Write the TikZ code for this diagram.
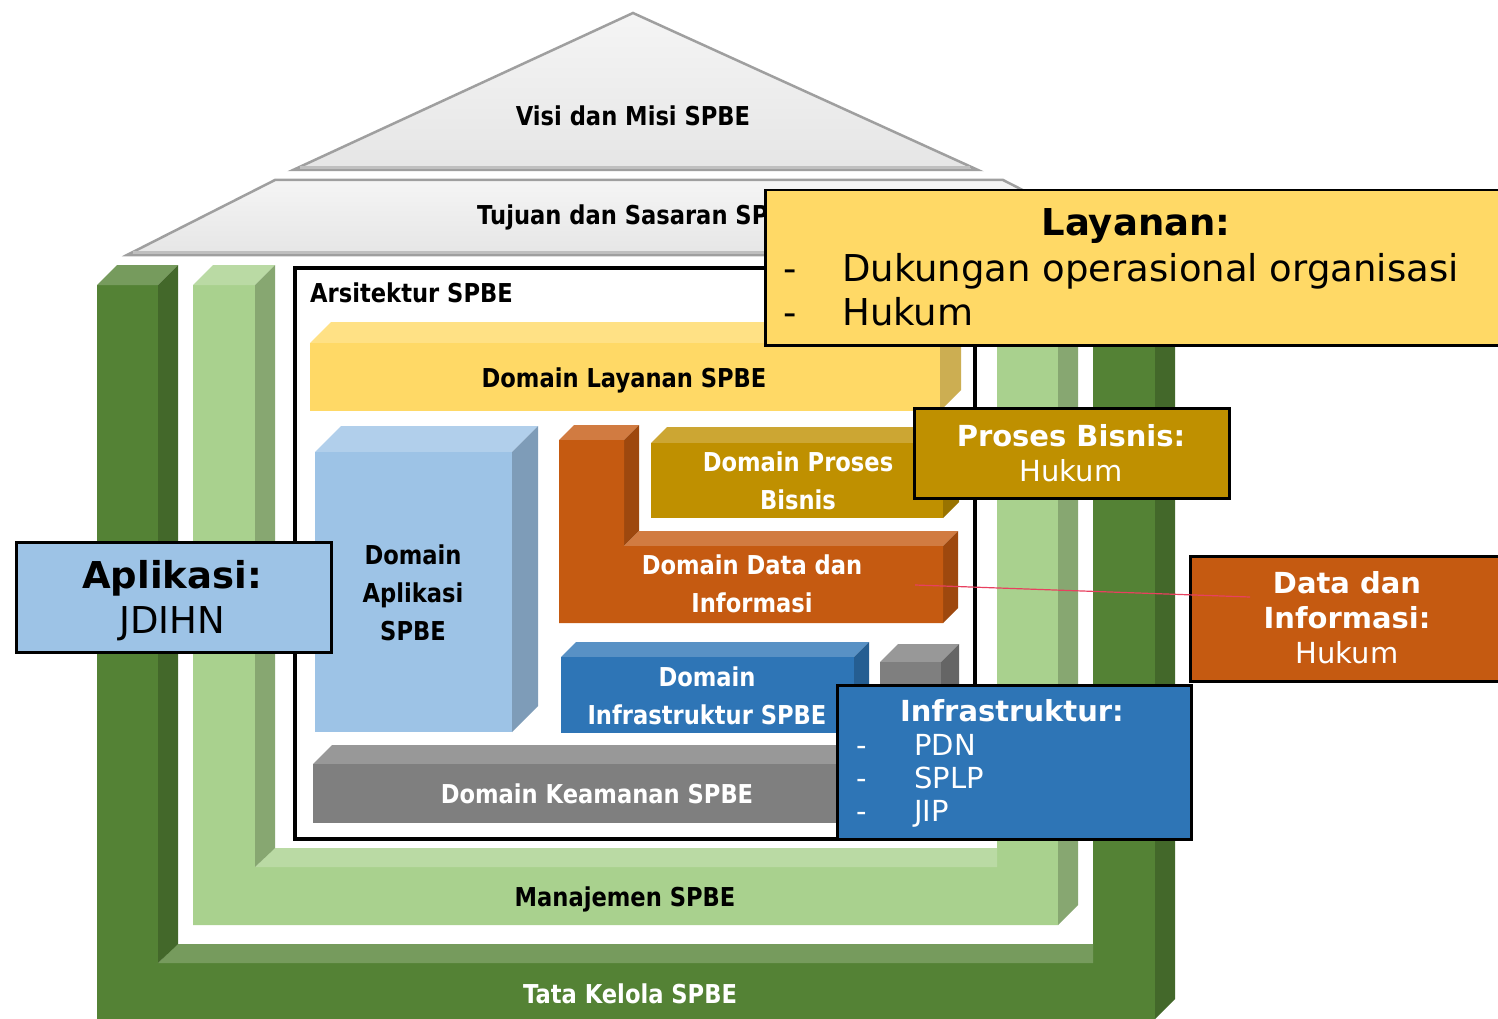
\documentclass[tikz,border=0pt]{standalone}
\usepackage{fontspec}
\setmainfont{DejaVu Sans}
\newfontfamily\labelfont{DejaVu Sans}[FakeStretch=0.87]
\usepackage{tikz}
\usetikzlibrary{positioning}
\usepackage{xcolor}
\definecolor{layananyellow}{HTML}{FFD966}
\definecolor{aplikasiblue}{HTML}{9DC3E6}
\definecolor{prosesgold}{HTML}{BF9000}
\definecolor{dataorange}{HTML}{C55A11}
\definecolor{infrablue}{HTML}{2E75B6}
\definecolor{amangray}{HTML}{7F7F7F}
\definecolor{tkgreen}{HTML}{548235}
\definecolor{mjgreen}{HTML}{A9D18E}
\definecolor{linkred}{HTML}{E8405F}

% kotak 3D: x1 y1 x2 y2 tebal warna
\newcommand{\blok}[6]{%
  \fill[#6!80!white] (#1,#2) -- ++(#5,-#5) -- (#3+#5,#2-#5) -- (#3,#2) -- cycle;
  \fill[#6!80!black] (#3,#2) -- (#3+#5,#2-#5) -- (#3+#5,#4-#5) -- (#3,#4) -- cycle;
  \fill[#6] (#1,#2) rectangle (#3,#4);
}

\begin{document}
\begin{tikzpicture}[x=1pt, y=-1pt,
   lbl/.style = {font=\labelfont\bfseries\fontsize{26}{38}\selectfont,
                 inner sep=0pt, align=center},
   callout/.style = {draw=black, line width=2.5pt, inner sep=0pt, anchor=north west},
   big/.style = {font=\fontsize{37}{45}\selectfont, inner sep=0pt},
   mid/.style = {font=\fontsize{29}{34}\selectfont, inner sep=0pt},
   item/.style = {anchor=base west},
   atap/.style = {top color=gray!8, bottom color=gray!20, draw=gray!75, line width=2.5}]
   \useasboundingbox[fill=white] (0,0) rectangle (1498,1019);

   % atap
   \shade[atap] (633,13) -- (978,170) -- (293,170) -- cycle;
   \draw[gray!50, line width=3] (300,167.5) -- (970,167.5);
   \shade[atap] (275,180) -- (1003,180) -- (1150,255) -- (127,255) -- cycle;
   \draw[gray!50, line width=3] (133,252.5) -- (1144,252.5);
   \node[lbl, anchor=base] (visi) at (633,125.5) {Visi dan Misi SPBE};
   \node[lbl, anchor=base west] (tujuan) at (477,224.5) {Tujuan dan Sasaran SPBE};

   % tata kelola dan manajemen
   \foreach \xa/\xb/\xc/\xd/\yb/\yc/\warna in
       {97/158/1093/1155/963/1019/tkgreen, 193/255/997/1058/867/925/mjgreen} {
     \fill[\warna] (\xa,285) -- (\xb,285) -- (\xb,\yb) -- (\xc,\yb) -- (\xc,285)
       -- (\xd,285) -- (\xd,\yc) -- (\xa,\yc) -- cycle;
     \fill[\warna!80!white] (\xa,285) -- ++(20,-20) -- (\xb+20,265) -- (\xb,285) -- cycle;
     \fill[\warna!80!white] (\xc,285) -- ++(20,-20) -- (\xd+20,265) -- (\xd,285) -- cycle;
     \fill[\warna!80!white] (\xb,\yb) -- ++(19,-19) -- (\xc,\yb-19) -- (\xc,\yb) -- cycle;
     \fill[\warna!80!black] (\xb,285) -- ++(20,-20) -- (\xb+20,\yb-19) -- (\xb,\yb) -- cycle;
     \fill[\warna!80!black] (\xd,285) -- ++(20,-20) -- (\xd+20,\yc-20) -- (\xd,\yc) -- cycle;
   }
   \node[lbl, anchor=base] (manajemen) at (625,906.5) {Manajemen SPBE};
   \node[lbl, anchor=base, text=white] (takel) at (630,1003.5) {Tata Kelola SPBE};

   % arsitektur
   \draw[line width=4, fill=white] (295,268) rectangle (975,839);
   \node[lbl, anchor=base west] (arsi) at (310,302.5) {Arsitektur SPBE};

   \blok{310}{343}{940}{411}{21}{layananyellow}
   \blok{315}{452}{512}{732}{26}{aplikasiblue}
   \blok{651}{443}{943}{518}{16}{prosesgold}
   % domain data berbentuk L
   \fill[dataorange!80!white] (559,440) -- ++(15,-15) -- (639,425) -- (624,440) -- cycle;
   \fill[dataorange!80!black] (624,440) -- ++(15,-15) -- (639,531) -- (624,546) -- cycle;
   \fill[dataorange!80!white] (624,546) -- ++(15,-15) -- (958,531) -- (943,546) -- cycle;
   \fill[dataorange!80!black] (943,546) -- ++(15,-15) -- (958,608) -- (943,623) -- cycle;
   \fill[dataorange] (559,440) -- (624,440) -- (624,546) -- (943,546) -- (943,623)
     -- (559,623) -- cycle;
   \blok{561}{657}{854}{733}{15}{infrablue}
   \blok{880}{662}{941}{720}{18}{amangray}
   \blok{313}{764}{940}{823}{19}{amangray}

   \node[lbl, anchor=base] (dlayanan) at (624,387.5) {Domain Layanan SPBE};
   \node[lbl] (daplikasi) at (413,593) {Domain\\Aplikasi\\SPBE};
   \node[lbl, text=white] (dproses) at (798,481) {Domain Proses\\Bisnis};
   \node[lbl, text=white] (ddata) at (752,584) {Domain Data dan\\Informasi};
   \node[lbl, text=white] (dinfra) at (707,696) {Domain\\Infrastruktur SPBE};
   \node[lbl, anchor=base, text=white] (dkeamanan) at (597,803.5) {Domain Keamanan SPBE};

   % keterangan
   \node[callout, fill=layananyellow, minimum width=745, minimum height=155]
     (layanan) at (764,189) {};
   \node[big, anchor=base, font=\fontsize{37}{45}\selectfont\bfseries]
     (layananjudul) at (1136,235.5) {Layanan:};
   \foreach \isi [count=\k] in {Dukungan operasional organisasi, Hukum} {
     \node[big, item] (layanandash\k) at (783,237.5+44*\k) {-};
     \node[big, item] (layanan\k) at (842,237.5+44*\k) {\isi};
   }

   \node[callout, fill=aplikasiblue, minimum width=315, minimum height=110]
     (aplikasi) at (15,541) {};
   \node[big, anchor=base, font=\fontsize{37}{45}\selectfont\bfseries]
     (aplikasijudul) at (172,588.5) {Aplikasi:};
   \node[big, anchor=base] (aplikasiisi) at (172,633.5) {JDIHN};

   \node[callout, fill=prosesgold, minimum width=315, minimum height=90]
     (proses) at (913,407) {};
   \node[mid, anchor=base, text=white, font=\fontsize{29}{34}\selectfont\bfseries]
     (prosesjudul) at (1071,446.6) {Proses Bisnis:};
   \node[mid, anchor=base, text=white] (prosesisi) at (1071,481.6) {Hukum};

   \node[callout, fill=dataorange, minimum width=320, minimum height=125]
     (data) at (1189,555) {};
   \node[mid, anchor=base, text=white, font=\fontsize{29}{34}\selectfont\bfseries]
     (datajudul) at (1347,593.6) {Data dan};
   \node[mid, anchor=base, text=white, font=\fontsize{29}{34}\selectfont\bfseries]
     (datajudul2) at (1347,628.6) {Informasi:};
   \node[mid, anchor=base, text=white] (dataisi) at (1347,663.6) {Hukum};

   \node[callout, fill=infrablue, minimum width=354, minimum height=154]
     (infra) at (836,684) {};
   \node[mid, anchor=base, text=white, font=\fontsize{29}{34}\selectfont\bfseries]
     (infrajudul) at (1012,721.6) {Infrastruktur:};
   \foreach \isi [count=\k] in {PDN,SPLP,JIP} {
     \node[mid, item, text=white] (infradash\k) at (856,722.6+33*\k) {-};
     \node[mid, item, text=white] (infra\k) at (914,722.6+33*\k) {\isi};
   }

   % garis merah
   \coordinate (ujungdata) at (915,585);
   \coordinate (ujunginfo) at (1250,597);
   \draw[linkred, line width=1.2] (ujungdata) -- (ujunginfo);
\end{tikzpicture}
\end{document}
